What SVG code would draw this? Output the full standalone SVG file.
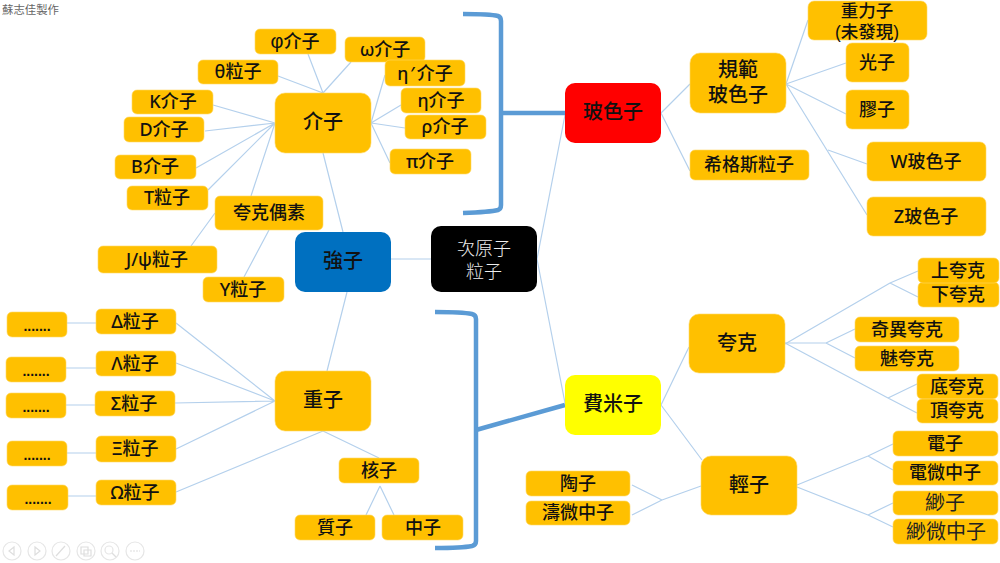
<svg xmlns="http://www.w3.org/2000/svg" width="1000" height="563" viewBox="0 0 1000 563">
<style>
.n{fill:#FFC000;stroke:#FFD966;stroke-width:.6}
text{font-family:"Noto Sans","Noto Sans CJK TC",sans-serif;font-weight:500;fill:#111;text-anchor:middle;font-size:18px}
.l{font-size:20px}
.d{font-family:"Liberation Sans",sans-serif;font-weight:bold;font-size:14px}
.c path{stroke:#B4D0EC;stroke-width:1.2;fill:none}
.h path{stroke:#5B9BD5;stroke-width:4.5;fill:none}
.t circle{fill:none;stroke:#E6E6E6;stroke-width:1.2}
.t path{fill:none;stroke:#DEDEDE;stroke-width:1.2}
</style>
<rect width="1000" height="563" fill="#fff"/>
<text x="2" y="14" style="text-anchor:start;font-size:11.4px;font-weight:400;fill:#666">蘇志佳製作</text>
<g id="connectors" class="c">
<path d="M275 123L213 105M275 123L205 131M275 123L196 168M275 123L208 190M275 123L251 196"/>
<path d="M323 93L278 76M323 93L308 54M323 93L351 62"/>
<path d="M371 123L385 75M371 123L401 105M371 123L405 128M371 123L390 163"/>
<path d="M323 153L343 232M215 213L191 246M269 230L244 277M391 259H431M347 292L327 371"/>
<path d="M537 259L565 115M537 259L565 403"/>
<path d="M661 113L690 84M661 113L690 171"/>
<path d="M786 84L808 20M786 84L846 63M786 84L846 114M786 84L867 215M828 150L867 164"/>
<path d="M785 344L890 283M890 283L918 271M890 283L918 297"/>
<path d="M785 343H826M826 343L855 329M826 343L855 358"/>
<path d="M785 343L888 398M888 398L917 384M888 398L917 413"/>
<path d="M661 405L689 347M661 405L702 460"/>
<path d="M797 485L868 456M868 456L893 444M868 456L893 470"/>
<path d="M797 487L868 515M868 515L893 503M868 515L893 527"/>
<path d="M701 486L662 500M662 500L632 485M662 500L632 515"/>
<path d="M275 401L176 323M275 401L176 363M275 401L175 403M275 401L176 449M323 431L176 492M323 431L379 458"/>
<path d="M380 486L366 515M380 486L394 515"/>
<path d="M67 323H96M66 368H96M66 405H95M67 453H96M68 496H96"/>
</g>
<g id="brackets" class="h">
<path d="M463 14Q490 14 498 16Q501 17 501 21V205Q501 209 498 210Q490 212 463 213"/>
<path d="M500 113H565"/>
<path d="M435 312Q462 312 472 314Q476 315 476 319V541Q476 545 472 546Q462 548 435 548"/>
<path d="M476 430L565 405"/>
</g>
<g id="n-sub"><rect x="431" y="226" width="106" height="66" rx="10" fill="#000"/><text x="484" y="255" style="fill:#eee;font-weight:300">次原子<tspan x="484" dy="23">粒子</tspan></text></g>
<g id="n-hadron"><rect x="295" y="232" width="96" height="60" rx="10" fill="#0070C0"/><text class="l" x="343" y="268">強子</text></g>
<g id="n-boson"><rect x="565" y="83" width="96" height="60" rx="10" fill="#FF0000"/><text class="l" x="613" y="119">玻色子</text></g>
<g id="n-fermion"><rect x="565" y="375" width="96" height="60" rx="10" fill="#FFFF00"/><text class="l" x="613" y="411">費米子</text></g>
<g id="n-meson"><rect class="n" x="275" y="93" width="96" height="60" rx="10"/><text class="l" x="323" y="129">介子</text></g>
<g id="n-baryon"><rect class="n" x="275" y="371" width="96" height="60" rx="10"/><text class="l" x="323" y="407">重子</text></g>
<g id="n-gauge"><rect class="n" x="690" y="53" width="96" height="60" rx="10"/><text class="l" x="738" y="77">規範<tspan x="738" dy="25">玻色子</tspan></text></g>
<g id="n-quark"><rect class="n" x="689" y="314" width="96" height="59" rx="10"/><text class="l" x="737" y="350">夸克</text></g>
<g id="n-lepton"><rect class="n" x="701" y="456" width="96" height="59" rx="10"/><text class="l" x="749" y="492">輕子</text></g>
<g id="n-phi"><rect class="n" x="255" y="29" width="81" height="25" rx="5"/><text x="295" y="48"><tspan style="font-family:'Liberation Sans',sans-serif;font-size:20px">φ</tspan>介子</text></g>
<g id="n-omega"><rect class="n" x="345" y="37" width="80" height="25" rx="5"/><text x="385" y="56">ω介子</text></g>
<g id="n-etap"><rect class="n" x="385" y="60" width="80" height="26" rx="5"/><text x="425" y="80">η<tspan dx="2">′</tspan><tspan dx="2">介子</tspan></text></g>
<g id="n-theta"><rect class="n" x="198" y="60" width="80" height="24" rx="5"/><text x="238" y="78">θ粒子</text></g>
<g id="n-k"><rect class="n" x="132" y="90" width="81" height="24" rx="5"/><text x="173" y="108">K介子</text></g>
<g id="n-d"><rect class="n" x="124" y="117" width="80" height="25" rx="5"/><text x="164" y="136">D介子</text></g>
<g id="n-eta"><rect class="n" x="401" y="88" width="80" height="25" rx="5"/><text x="441" y="107">η介子</text></g>
<g id="n-rho"><rect class="n" x="405" y="115" width="81" height="24" rx="5"/><text x="445" y="133">ρ介子</text></g>
<g id="n-pi"><rect class="n" x="390" y="149" width="81" height="25" rx="5"/><text x="430" y="168">π介子</text></g>
<g id="n-b"><rect class="n" x="115" y="155" width="81" height="24" rx="5"/><text x="155" y="173">B介子</text></g>
<g id="n-t"><rect class="n" x="127" y="186" width="81" height="24" rx="5"/><text x="167" y="204">T粒子</text></g>
<g id="n-quarkonium"><rect class="n" x="215" y="196" width="108" height="34" rx="5"/><text x="269" y="219">夸克偶素</text></g>
<g id="n-jpsi"><rect class="n" x="98" y="246" width="119" height="27" rx="5"/><text x="157" y="266">J/ψ粒子</text></g>
<g id="n-upsilon"><rect class="n" x="203" y="277" width="81" height="25" rx="5"/><text x="243" y="296">Υ粒子</text></g>
<g id="n-graviton"><rect class="n" x="808" y="1" width="119" height="39" rx="6"/><text x="867" y="17" style="font-size:17.5px;font-family:'Liberation Sans','Noto Sans CJK TC',sans-serif">重力子<tspan x="867" dy="21">(未發現)</tspan></text></g>
<g id="n-photon"><rect class="n" x="846" y="43" width="63" height="39" rx="6"/><text x="877" y="69">光子</text></g>
<g id="n-gluon"><rect class="n" x="846" y="90" width="63" height="39" rx="6"/><text x="877" y="116">膠子</text></g>
<g id="n-w"><rect class="n" x="867" y="142" width="119" height="39" rx="6"/><text x="926" y="168">W玻色子</text></g>
<g id="n-z"><rect class="n" x="867" y="197" width="119" height="39" rx="6"/><text x="926" y="223">Z玻色子</text></g>
<g id="n-higgs"><rect class="n" x="690" y="150" width="119" height="30" rx="5"/><text x="749" y="171">希格斯粒子</text></g>
<g id="n-down"><rect class="n" x="918" y="282" width="81" height="25" rx="5"/><text x="958" y="301">下夸克</text></g>
<g id="n-up"><rect class="n" x="918" y="258" width="81" height="25" rx="5"/><text x="958" y="277">上夸克</text></g>
<g id="n-strange"><rect class="n" x="855" y="317" width="104" height="25" rx="5"/><text x="907" y="336">奇異夸克</text></g>
<g id="n-charm"><rect class="n" x="855" y="346" width="104" height="25" rx="5"/><text x="907" y="365">魅夸克</text></g>
<g id="n-bottom"><rect class="n" x="917" y="374" width="81" height="25" rx="5"/><text x="957" y="393">底夸克</text></g>
<g id="n-top"><rect class="n" x="917" y="399" width="81" height="24" rx="5"/><text x="957" y="417">頂夸克</text></g>
<g id="n-e"><rect class="n" x="893" y="431" width="105" height="25" rx="5"/><text x="945" y="450">電子</text></g>
<g id="n-ve"><rect class="n" x="893" y="461" width="105" height="24" rx="5"/><text x="945" y="479">電微中子</text></g>
<g id="n-mu"><rect class="n" x="893" y="491" width="105" height="24" rx="5"/><text x="945" y="510" style="font-size:20px;font-weight:400;fill:#222">緲子</text></g>
<g id="n-vmu"><rect class="n" x="893" y="519" width="105" height="25" rx="5"/><text x="946" y="539" style="font-size:20px;font-weight:400;fill:#222">緲微中子</text></g>
<g id="n-tau"><rect class="n" x="526" y="471" width="104" height="25" rx="5"/><text x="578" y="490">陶子</text></g>
<g id="n-vtau"><rect class="n" x="526" y="501" width="104" height="24" rx="5"/><text x="578" y="519">濤微中子</text></g>
<g id="n-delta"><rect class="n" x="96" y="309" width="80" height="25" rx="5"/><text x="135" y="328">Δ粒子</text></g>
<g id="n-lambda"><rect class="n" x="96" y="351" width="80" height="25" rx="5"/><text x="135" y="370">Λ粒子</text></g>
<g id="n-sigma"><rect class="n" x="95" y="391" width="80" height="25" rx="5"/><text x="134" y="410">Σ粒子</text></g>
<g id="n-xi"><rect class="n" x="96" y="436" width="80" height="26" rx="5"/><text x="135" y="455">Ξ粒子</text></g>
<g id="n-omegab"><rect class="n" x="96" y="480" width="80" height="25" rx="5"/><text x="135" y="499">Ω粒子</text></g>
<g id="n-d1"><rect class="n" x="7" y="312" width="60" height="25" rx="5"/><text class="d" x="37" y="331">.......</text></g>
<g id="n-d2"><rect class="n" x="6" y="357" width="60" height="25" rx="5"/><text class="d" x="36" y="376">.......</text></g>
<g id="n-d3"><rect class="n" x="6" y="393" width="60" height="25" rx="5"/><text class="d" x="36" y="412">.......</text></g>
<g id="n-d4"><rect class="n" x="7" y="441" width="60" height="25" rx="5"/><text class="d" x="37" y="460">.......</text></g>
<g id="n-d5"><rect class="n" x="7" y="485" width="61" height="25" rx="5"/><text class="d" x="38" y="504">.......</text></g>
<g id="n-nucleon"><rect class="n" x="339" y="458" width="80" height="25" rx="5"/><text x="379" y="477">核子</text></g>
<g id="n-proton"><rect class="n" x="295" y="515" width="80" height="25" rx="5"/><text x="335" y="534">質子</text></g>
<g id="n-neutron"><rect class="n" x="382" y="515" width="81" height="25" rx="5"/><text x="423" y="534">中子</text></g>
<g id="toolbar" class="t">
<circle cx="12" cy="551" r="9"/><path d="M14 547L9 551L14 555Z"/>
<circle cx="37" cy="551" r="9"/><path d="M35 547L40 551L35 555Z"/>
<circle cx="61" cy="551" r="9"/><path d="M56 556L65 546"/>
<circle cx="86" cy="551" r="9"/><path d="M81 547H88V554H81ZM84 550H91V556H84Z"/>
<circle cx="110" cy="551" r="9"/><circle cx="109" cy="550" r="4"/><path d="M112 553L116 557"/>
<circle cx="135" cy="551" r="9"/><path d="M130 551H140" stroke-dasharray="2 1"/>
</g>
</svg>
